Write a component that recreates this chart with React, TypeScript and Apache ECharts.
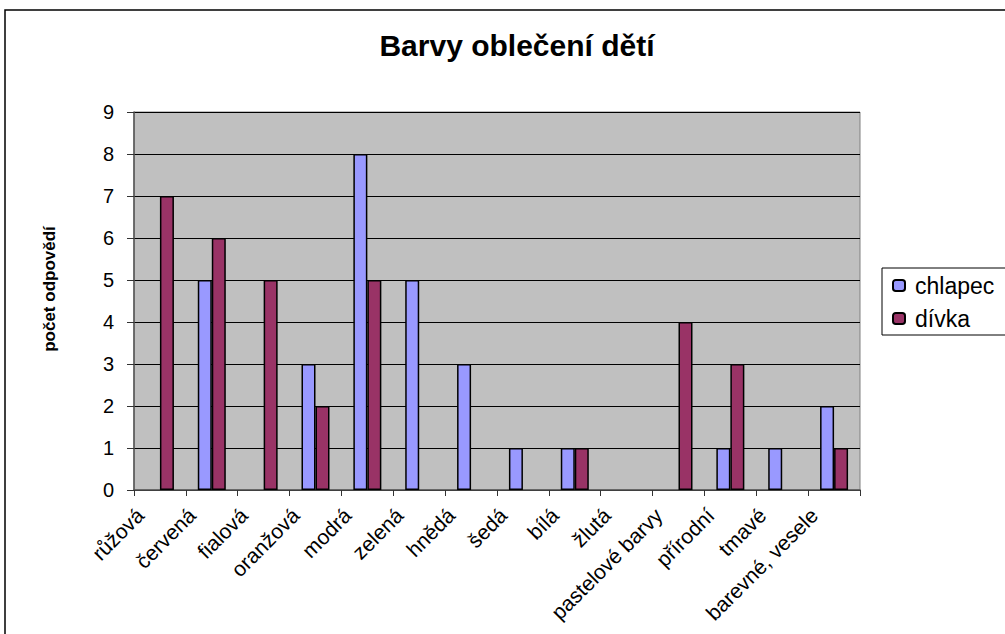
import React, { useEffect, useRef } from "react";
import * as echarts from "echarts";

const categories = [
  "růžová", "červená", "fialová", "oranžová", "modrá", "zelená", "hnědá",
  "šedá", "bílá", "žlutá", "pastelové barvy", "přírodní", "tmavé", "barevné, vesele",
];
const chlapec = [0, 5, 0, 3, 8, 5, 3, 1, 1, 0, 0, 1, 1, 2];
const divka = [7, 6, 5, 2, 5, 0, 0, 0, 1, 0, 4, 3, 0, 1];
const seriesNames = ["chlapec", "dívka"];
const titleText = "Barvy oblečení dětí";
const yAxisTitle = "počet odpovědí";

const FONT = "'Liberation Sans', Arial, sans-serif";

// zero-height bars are not drawn in the reference (no outline)
const hideZero = (arr: number[]) => arr.map((v) => (v === 0 ? "-" : v));

export default function App() {
  const ref = useRef<HTMLDivElement>(null);
  useEffect(() => {
    const chart = echarts.init(ref.current!, null, { renderer: "svg" });
    chart.setOption({
      animation: false,
      backgroundColor: "#fff",
      legend: {
        orient: "vertical",
        left: 882,
        top: 268,
        width: 140,
        padding: [6, 40, 5, 10],
        itemGap: 10,
        itemWidth: 12,
        itemHeight: 11,
        borderColor: "#000",
        borderWidth: 1,
        textStyle: { fontFamily: FONT, fontSize: 23, color: "#000", padding: [0, 0, 0, 5] },
        data: seriesNames,
      },
      grid: {
        left: 134,
        right: 145,
        top: 112,
        bottom: 144,
        show: true,
        backgroundColor: "#C0C0C0",
        borderWidth: 1,
        borderColor: "#808080",
      },
      xAxis: {
        type: "category",
        data: categories,
        axisLine: { lineStyle: { color: "#555", width: 1.5 } },
        axisTick: { show: true, alignWithLabel: false, length: 6, lineStyle: { color: "#333" } },
        axisLabel: {
          interval: 0,
          rotate: 45,
          margin: 2,
          padding: [0, 28, 0, 0],
          fontFamily: FONT,
          fontSize: 21,
          color: "#000",
        },
      },
      yAxis: {
        type: "value",
        min: 0,
        max: 9,
        interval: 1,
        axisLine: { show: true, lineStyle: { color: "#555", width: 1.5 } },
        axisTick: { show: true, length: 7, lineStyle: { color: "#333" } },
        axisLabel: { fontFamily: FONT, fontSize: 20, color: "#000", margin: 20 },
        splitLine: { show: true, lineStyle: { color: "#000", width: 1 } },
      },
      series: [
        {
          name: seriesNames[0],
          type: "bar",
          data: hideZero(chlapec),
          barGap: "0%",
          barCategoryGap: "46%",
          itemStyle: { color: "#9999FF", borderColor: "#000", borderWidth: 1.5 },
        },
        {
          name: seriesNames[1],
          type: "bar",
          data: hideZero(divka),
          barGap: "0%",
          barCategoryGap: "46%",
          itemStyle: { color: "#993366", borderColor: "#000", borderWidth: 1.5 },
        },
      ],
      graphic: [
        {
          type: "rect",
          shape: { x: 5, y: 10, width: 1020, height: 650 },
          style: { fill: "none", stroke: "#000", lineWidth: 1.5 },
          silent: true,
        },
        {
          type: "text",
          x: 517,
          y: 45,
          style: {
            text: titleText,
            fontFamily: FONT,
            fontSize: 30,
            fontWeight: "bold",
            fill: "#000",
            align: "center",
            verticalAlign: "middle",
          },
        },
        {
          type: "text",
          x: 49,
          y: 289,
          rotation: Math.PI / 2,
          style: {
            text: yAxisTitle,
            fontFamily: FONT,
            fontSize: 17,
            fontWeight: "bold",
            fill: "#000",
            align: "center",
            verticalAlign: "middle",
          },
        },
      ],
    });
    return () => chart.dispose();
  }, []);
  return (
    <div
      ref={ref}
      style={{ position: "fixed", left: 0, top: 0, width: 1005, height: 634 }}
    />
  );
}
